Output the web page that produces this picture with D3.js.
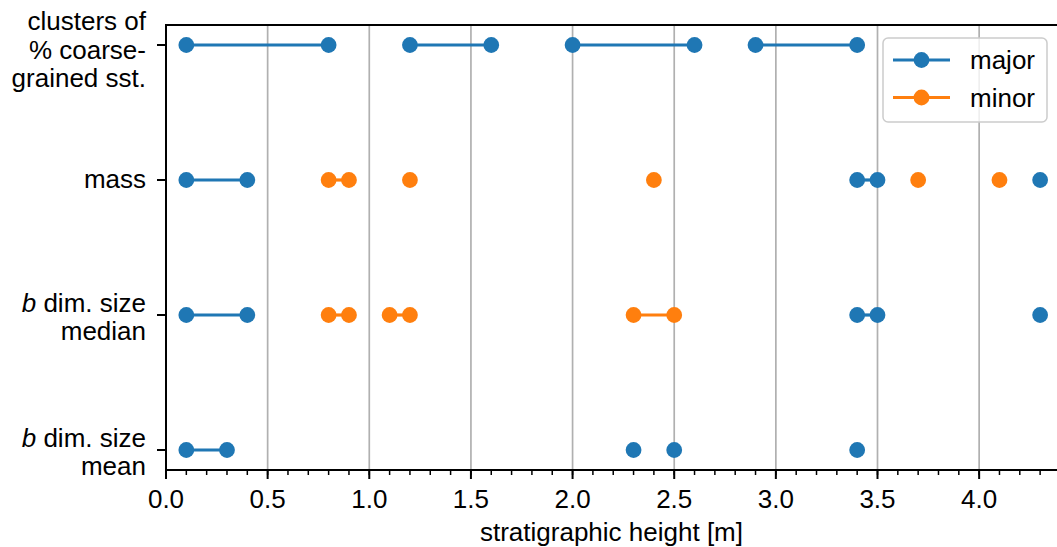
<!DOCTYPE html>
<html>
<head>
<meta charset="utf-8">
<script src="https://cdn.jsdelivr.net/npm/d3@7"></script>
<style>
  body { margin: 0; background: #fff; }
  svg { display: block; }
  text { font-family: "Liberation Sans", Arial, Helvetica, sans-serif; fill: #000; }
</style>
</head>
<body>
<svg id="chart" width="1057" height="547"></svg>
<script>
// Categories (top to bottom) and their label lines
const categories = ["clusters", "mass", "median", "mean"];
const categoryLines = [
  ["clusters of", "% coarse-", "grained sst."],
  ["mass"],
  ["b dim. size", "median"],
  ["b dim. size", "mean"]
];

// Intervals [start, end] in metres; start === end means a single point
const majorClusters = [[0.1, 0.8], [1.2, 1.6], [2.0, 2.6], [2.9, 3.4]];
const majorMass     = [[0.1, 0.4], [3.4, 3.5], [4.3, 4.3]];
const minorMass     = [[0.8, 0.9], [1.2, 1.2], [2.4, 2.4], [3.7, 3.7], [4.1, 4.1]];
const majorMedian   = [[0.1, 0.4], [3.4, 3.5], [4.3, 4.3]];
const minorMedian   = [[0.8, 0.9], [1.1, 1.2], [2.3, 2.5]];
const majorMean     = [[0.1, 0.3], [2.3, 2.3], [2.5, 2.5], [3.4, 3.4]];

const xTickValues = [0, 0.5, 1.0, 1.5, 2.0, 2.5, 3.0, 3.5, 4.0];
const xTickLabels = ["0.0", "0.5", "1.0", "1.5", "2.0", "2.5", "3.0", "3.5", "4.0"];
const xMinorTicks = d3.range(0, 44).map(i => i / 10);
const xLabel = "stratigraphic height [m]";
const legendNames = ["major", "minor"];
const colors = { major: "#1f77b4", minor: "#ff7f0e" };

const series = [
  { kind: "major", row: "clusters", segs: majorClusters },
  { kind: "major", row: "mass", segs: majorMass },
  { kind: "minor", row: "mass", segs: minorMass },
  { kind: "major", row: "median", segs: majorMedian },
  { kind: "minor", row: "median", segs: minorMedian },
  { kind: "major", row: "mean", segs: majorMean }
];

const svg = d3.select("#chart");
const plotLeft = 166, plotRight = 1057, plotTop = 25, plotBottom = 470;
const fontSize = 26;

const x = d3.scaleLinear().domain([0, 4.383]).range([plotLeft, plotRight]);
const y = d3.scalePoint().domain(categories).range([plotTop, plotBottom]).padding(0.148);

// vertical grid
svg.append("g").selectAll("line").data(xTickValues.filter(v => v > 0)).join("line")
  .attr("x1", d => x(d)).attr("x2", d => x(d))
  .attr("y1", plotTop).attr("y2", plotBottom)
  .attr("stroke", "#b0b0b0").attr("stroke-width", 1.7);

// data marks
const marks = svg.append("g");
series.forEach(s => {
  const g = marks.append("g");
  const yy = y(s.row);
  g.selectAll("line").data(s.segs.filter(d => d[0] !== d[1])).join("line")
    .attr("x1", d => x(d[0])).attr("x2", d => x(d[1]))
    .attr("y1", yy).attr("y2", yy)
    .attr("stroke", colors[s.kind]).attr("stroke-width", 3.2);
  const pts = s.segs.flatMap(d => d[0] === d[1] ? [d[0]] : [d[0], d[1]]);
  g.selectAll("circle").data(pts).join("circle")
    .attr("cx", d => x(d)).attr("cy", yy).attr("r", 7.9)
    .attr("fill", colors[s.kind]);
});

// spines
svg.append("line").attr("x1", plotLeft).attr("x2", plotRight).attr("y1", plotTop).attr("y2", plotTop)
  .attr("stroke", "#000").attr("stroke-width", 2);
svg.append("line").attr("x1", plotLeft).attr("x2", plotRight).attr("y1", plotBottom).attr("y2", plotBottom)
  .attr("stroke", "#000").attr("stroke-width", 2);
svg.append("line").attr("x1", plotLeft).attr("x2", plotLeft).attr("y1", plotTop - 1).attr("y2", plotBottom + 1)
  .attr("stroke", "#000").attr("stroke-width", 2);

// x axis ticks
const xAxis = svg.append("g");
xAxis.selectAll("line.minor").data(xMinorTicks.filter(v => x(v) <= plotRight)).join("line")
  .attr("class", "minor")
  .attr("x1", d => x(d)).attr("x2", d => x(d))
  .attr("y1", plotBottom).attr("y2", plotBottom + 5)
  .attr("stroke", "#000").attr("stroke-width", 1.5);
xAxis.selectAll("line.major").data(xTickValues).join("line")
  .attr("class", "major")
  .attr("x1", d => x(d)).attr("x2", d => x(d))
  .attr("y1", plotBottom).attr("y2", plotBottom + 9)
  .attr("stroke", "#000").attr("stroke-width", 2);
xAxis.selectAll("text").data(xTickValues).join("text")
  .attr("x", d => x(d)).attr("y", 508)
  .attr("text-anchor", "middle").attr("font-size", fontSize)
  .text((d, i) => xTickLabels[i]);
svg.append("text").attr("x", (plotLeft + plotRight) / 2).attr("y", 541)
  .attr("text-anchor", "middle").attr("font-size", fontSize).text(xLabel);

// y axis ticks and multi-line labels
const yAxis = svg.append("g");
categories.forEach((c, i) => {
  const yy = y(c);
  yAxis.append("line").attr("x1", plotLeft - 9).attr("x2", plotLeft)
    .attr("y1", yy).attr("y2", yy).attr("stroke", "#000").attr("stroke-width", 2);
  const lines = categoryLines[i];
  const n = lines.length;
  const lh = 28.5;
  const first = yy + 8.5 - (n - 1) * 11.6;
  const t = yAxis.append("text").attr("text-anchor", "end").attr("font-size", fontSize);
  lines.forEach((ln, k) => {
    const ts = t.append("tspan").attr("x", 146).attr("y", first + k * lh);
    if (ln.startsWith("b ")) {
      ts.append("tspan").attr("font-style", "italic").text("b");
      ts.append("tspan").text(ln.slice(1));
    } else {
      ts.text(ln);
    }
  });
});

// legend
const lg = svg.append("g");
lg.append("rect").attr("x", 883).attr("y", 38).attr("width", 164).attr("height", 84)
  .attr("rx", 5).attr("fill", "#fff").attr("fill-opacity", 0.8)
  .attr("stroke", "#cccccc").attr("stroke-width", 1.5);
legendNames.forEach((name, i) => {
  const ly = 60 + i * 37.5;
  lg.append("line").attr("x1", 893).attr("x2", 950).attr("y1", ly).attr("y2", ly)
    .attr("stroke", colors[name]).attr("stroke-width", 3.2);
  lg.append("circle").attr("cx", 921.5).attr("cy", ly).attr("r", 7.9).attr("fill", colors[name]);
  lg.append("text").attr("x", 970).attr("y", ly + 9).attr("font-size", fontSize).text(name);
});
</script>
</body>
</html>
